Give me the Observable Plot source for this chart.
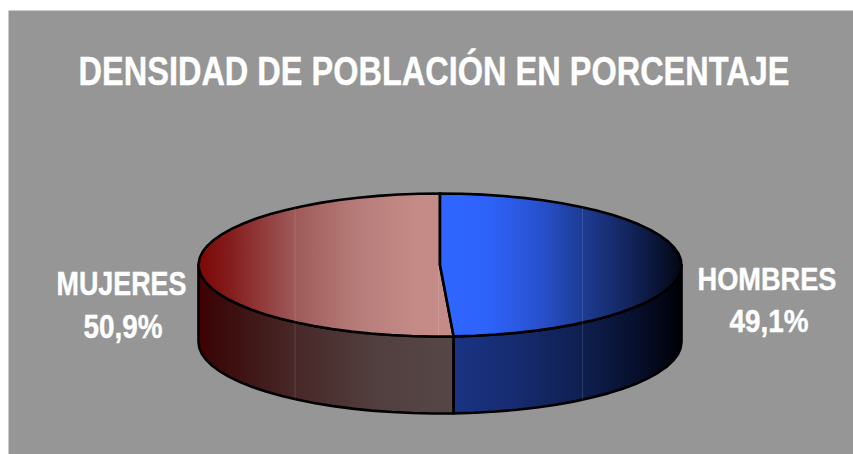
<!DOCTYPE html>
<html>
<head>
<meta charset="utf-8">
<script src="https://cdn.jsdelivr.net/npm/d3@7"></script>
<script src="https://cdn.jsdelivr.net/npm/@observablehq/plot@0.6"></script>
<style>
  html, body { margin: 0; padding: 0; background: #fff; }
  svg { display: block; }
</style>
</head>
<body>
<div id="chart"></div>
<script>
// Data
const title = "DENSIDAD DE POBLACIÓN EN PORCENTAJE";
const categories = ["HOMBRES", "MUJERES"];
const shares = [49.1, 50.9];

// Layout
const W = 853, H = 454;
const cx = 439.5, rx = 241.5, cy = 264.5, ry = 71.5, depthPx = 77;
const depth = depthPx / ry;
const X = px => (px - cx) / rx;
const Y = py => (cy - py) / ry;
const INK = "#000";

// Angle (clockwise from 12 o'clock) at which the two slices meet
const split = shares[0] / d3.sum(shares) * 2 * Math.PI;
const pt = (t, dz = 0) => ({x: Math.sin(t), y: Math.cos(t) - dz});
const arc = (a, b, dz = 0) => {
  const n = Math.max(2, Math.round(Math.abs(b - a) / (Math.PI / 36)));
  return d3.range(n + 1).map(i => pt(a + (b - a) * i / n, dz));
};
const closed = pts => [...pts, pts[0]];
const topFace = (a, b) => closed([{x: 0, y: 0}, ...arc(a, b)]);
const sideFace = (a, b) => closed([...arc(a, b), ...arc(b, a, depth)]);

// Gradients
const gradients = {
  topM: [[0, "#7c0606"], [0.12, "#841c1c"], [0.38, "#9f5a5a"], [0.62, "#b67c79"], [0.86, "#c48b87"], [1, "#c48b87"]],
  sideM: [[0, "#450000"], [0.06, "#3a0808"], [0.38, "#482828"], [0.7, "#523f3f"], [1, "#564746"]],
  topH: [[0, "#2f66ff"], [0.2, "#2e63fa"], [0.42, "#2750cc"], [0.6, "#1d3b90"], [0.8, "#112257"], [1, "#030613"]],
  sideH: [[0, "#1a3383"], [0.25, "#172c72"], [0.56, "#0f1f50"], [0.8, "#060f2c"], [1, "#000005"]]
};
const defsMark = () => {
  const defs = d3.create("svg:defs");
  for (const [id, stops] of Object.entries(gradients)) {
    const g = defs.append("linearGradient").attr("id", id).attr("x1", 0).attr("x2", 1).attr("y1", 0).attr("y2", 0);
    for (const [o, c] of stops) g.append("stop").attr("offset", o).attr("stop-color", c);
  }
  return defs.node();
};
// The reference's lettering is condensed: squeeze each text to the width it has there
const ctx = document.createElement("canvas").getContext("2d");
const squeeze = (str, size, w) => (index, scales, values, dims, context, next) => {
  const g = next(index, scales, values, dims, context);
  ctx.font = `bold ${size}px "Liberation Sans"`;
  const sx = w / ctx.measureText(str).width;
  g.querySelectorAll("text").forEach(t => {
    t.setAttribute("transform", `${t.getAttribute("transform") || ""} scale(${sx},1)`);
  });
  return g;
};
const face = (pts, id) => Plot.line(pts, {
  x: "x", y: "y", fill: `url(#${id})`, stroke: INK, strokeWidth: 2.6,
  strokeLinejoin: "round", curve: "linear"
});
const faint = pts => Plot.line(pts, {
  x: "x", y: "y", stroke: "#fff", strokeOpacity: 0.12, strokeWidth: 1
});
const seam = s => {
  const t = Math.asin(s);
  const top = s < 0 ? Math.PI * 2 + t : t;
  return faint([pt(top), pt(Math.PI - t, depth)]);
};
const label = (text, fx, fy, w) => Plot.text([text], {
  x: () => X(fx), y: () => Y(fy), text: d => d,
  fill: "#fff", stroke: "#fff", strokeWidth: 0.4,
  fontFamily: "Liberation Sans", fontWeight: "bold",
  fontSize: w.size, textAnchor: "middle", lineAnchor: "bottom",
  render: squeeze(text, w.size, w.len)
});
const pct = v => v.toFixed(1).replace(".", ",") + "%";

const plot = Plot.plot({
  width: W, height: H,
  marginLeft: 8, marginTop: 10, marginRight: 0, marginBottom: 0,
  style: {background: "#fff", overflow: "visible"},
  x: {type: "linear", domain: [-1, 1], range: [cx - rx, cx + rx], axis: null},
  y: {type: "linear", domain: [-1, 1], range: [cy + ry, cy - ry], axis: null},
  marks: [
    defsMark,
    Plot.frame({fill: "#969696", stroke: "none"}),
    face(sideFace(split, 1.5 * Math.PI), "sideM"),
    face(sideFace(Math.PI / 2, split), "sideH"),
    face(topFace(split, 2 * Math.PI), "topM"),
    face(topFace(0, split), "topH"),
    seam(-0.6),
    seam(0.59),
    faint([{x: X(438), y: -0.02}, {x: X(438), y: -0.985}]),
    label(title, 433.5, 84, {size: 40, len: 711}),
    label(categories[1], 121, 294, {size: 33, len: 130}),
    label(pct(shares[1]), 122.5, 337, {size: 33, len: 79}),
    label(categories[0], 766.5, 289, {size: 32, len: 139}),
    label(pct(shares[0]), 768.5, 331, {size: 31, len: 79})
  ]
});
document.getElementById("chart").appendChild(plot);
</script>
</body>
</html>
